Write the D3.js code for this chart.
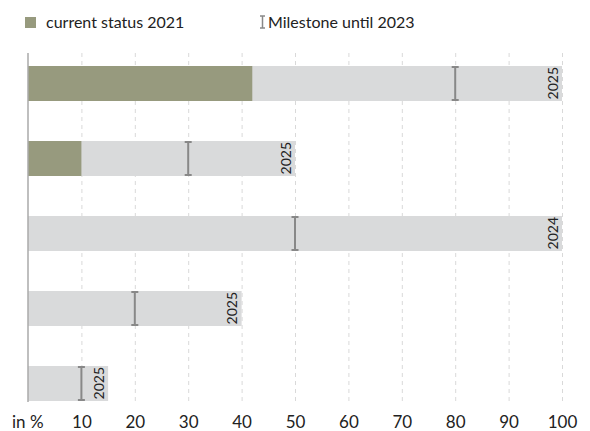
<!DOCTYPE html>
<html><head><meta charset="utf-8">
<script src="https://cdn.jsdelivr.net/npm/d3@7"></script>
<style>body{margin:0;background:#fff}svg{display:block;font-family:Lato,"Open Sans",sans-serif}</style>
</head><body><svg id="c" width="590" height="431"></svg>
<script>
const categories = ["A","B","C","D","E"];
const targets = [100, 50, 100, 40, 15];
const current = [42, 10, 0, 0, 0];
const milestones = [80, 30, 50, 20, 10];
const targetYears = ["2025","2025","2024","2025","2025"];
const ticks = [10,20,30,40,50,60,70,80,90,100];

const svg = d3.select("#c");
const x = d3.scaleLinear().domain([0,100]).range([28,562]);
const yb = d3.scaleBand().domain(categories).range([66-20,366+35+20]).paddingInner(40/75).paddingOuter(20/75);

// gridlines
svg.append("g").selectAll("line").data(ticks).join("line")
  .attr("x1", d=>x(d)+0.5).attr("x2", d=>x(d)+0.5).attr("y1",53).attr("y2",402)
  .attr("stroke","#d9d9d9").attr("stroke-width",1).attr("stroke-dasharray","4,4");

const data = categories.map((c,i)=>({c, t:targets[i], v:current[i], m:milestones[i], yr:targetYears[i]}));

svg.append("g").selectAll("rect").data(data).join("rect")
  .attr("x", x(0)).attr("y", d=>yb(d.c)).attr("width", d=>x(d.t)-x(0)).attr("height", yb.bandwidth())
  .attr("fill","#d9dadb");
svg.append("g").selectAll("rect").data(data.filter(d=>d.v>0)).join("rect")
  .attr("x", x(0)).attr("y", d=>yb(d.c)).attr("width", d=>x(d.v)-x(0)).attr("height", yb.bandwidth())
  .attr("fill","#979a7e");

// milestones
const mg = svg.append("g").attr("stroke","#888").attr("stroke-width",2);
data.forEach(d=>{
  const mx = x(d.m), y0 = yb(d.c)+1, y1 = yb(d.c)+yb.bandwidth()-1;
  mg.append("line").attr("x1",mx).attr("x2",mx).attr("y1",y0).attr("y2",y1);
  mg.append("line").attr("x1",mx-3.5).attr("x2",mx+3.5).attr("y1",y0).attr("y2",y0);
  mg.append("line").attr("x1",mx-3.5).attr("x2",mx+3.5).attr("y1",y1).attr("y2",y1);
});

// year labels
svg.append("g").selectAll("text").data(data).join("text")
  .attr("transform", d=>`translate(${x(d.t)-4.5},${yb(d.c)+1}) rotate(-90)`)
  .attr("text-anchor","end").attr("font-size",14).attr("fill","#222").text(d=>d.yr);

// y axis line
svg.append("line").attr("x1",28).attr("x2",28).attr("y1",53).attr("y2",402).attr("stroke","#aaa").attr("stroke-width",1.5);

// x axis labels
const ax = svg.append("g").attr("transform","translate(0,427.5)")
  .call(d3.axisBottom(x).tickValues(ticks).tickSize(0).tickPadding(0));
ax.select(".domain").remove();
ax.selectAll("text").attr("dy",0).attr("font-size",17).attr("fill","#222").attr("font-family","Lato,sans-serif");
svg.append("text").attr("x",12).attr("y",427.5).attr("font-size",17).attr("fill","#222").text("in %");

// legend
svg.append("rect").attr("x",25).attr("y",17).attr("width",11).attr("height",11).attr("fill","#979a7e");
svg.append("text").attr("x",46).attr("y",28).attr("font-size",16).attr("fill","#222").text("current status 2021");
const lg = svg.append("g").attr("stroke","#888").attr("stroke-width",1.5);
lg.append("line").attr("x1",262.5).attr("x2",262.5).attr("y1",16).attr("y2",28);
lg.append("line").attr("x1",260).attr("x2",265).attr("y1",16).attr("y2",16);
lg.append("line").attr("x1",260).attr("x2",265).attr("y1",28).attr("y2",28);
svg.append("text").attr("x",268).attr("y",28).attr("font-size",16).attr("fill","#222").text("Milestone until 2023");
</script></body></html>
